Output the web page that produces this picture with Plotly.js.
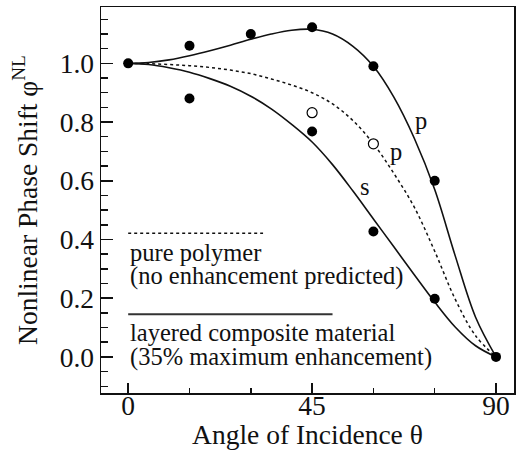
<!DOCTYPE html>
<html>
<head>
<meta charset="utf-8">
<script src="https://cdn.plot.ly/plotly-3.0.1.min.js"></script>
<style>
html,body{margin:0;padding:0;background:#fff;}
#chart{width:517px;height:450px;}
</style>
</head>
<body>
<div id="chart"></div>
<script>
// Angles of incidence (degrees) for the model curves
const curveAngles = [0,5,10,15,20,25,30,35,40,45,50,55,60,65,70,75,80,85,90];
// Layered composite, p polarization (solid)
const compositeP = [1.0,1.003,1.012,1.026,1.043,1.062,1.082,1.100,1.113,1.116,1.100,1.058,0.990,0.885,0.745,0.570,0.345,0.135,0.0];
// Layered composite, s polarization (solid)
const compositeS = [1.0,0.996,0.985,0.970,0.948,0.922,0.888,0.845,0.792,0.732,0.655,0.565,0.470,0.375,0.280,0.187,0.102,0.038,0.0];
// Pure polymer, p polarization (dotted)
const polymerP = [1.0,0.999,0.996,0.992,0.986,0.977,0.965,0.947,0.926,0.900,0.862,0.805,0.726,0.625,0.510,0.360,0.197,0.072,0.0];

// Measured data, layered composite (filled circles)
const measAngles = [0,15,15,30,45,45,60,60,75,75,90];
const measValues = [1.0,1.06,0.88,1.10,1.123,0.768,0.99,0.427,0.60,0.198,0.0];
// Measured data, pure polymer (open circles)
const polyAngles = [45,60];
const polyValues = [0.832,0.726];

// Tick definitions
const xTickVals = [0,45,90];
const xTickText = ['0','45','90'];
const yTickVals = [0.0,0.2,0.4,0.6,0.8,1.0];
const yTickText = ['0.0','0.2','0.4','0.6','0.8','1.0'];

const FONT = 'Liberation Serif';
const INK = '#111';

const traces = [
  {x: curveAngles, y: compositeP, mode: 'lines', line: {color: INK, width: 1.6, shape: 'spline', smoothing: 1}, hoverinfo: 'skip'},
  {x: curveAngles, y: compositeS, mode: 'lines', line: {color: INK, width: 1.6, shape: 'spline', smoothing: 1}, hoverinfo: 'skip'},
  {x: curveAngles, y: polymerP, mode: 'lines', line: {color: INK, width: 1.5, dash: 'dot', shape: 'spline', smoothing: 1}, hoverinfo: 'skip'},
  {x: measAngles, y: measValues, mode: 'markers', marker: {color: '#000', size: 10, symbol: 'circle'}},
  {x: polyAngles, y: polyValues, mode: 'markers', marker: {color: '#fff', size: 10, symbol: 'circle', line: {color: '#000', width: 1.2}}}
];

const xRange = [-6.65, 94.4];
const yRange = [-0.123, 1.192];

const tickFont = {family: FONT, size: 27.5, color: INK};
const titleFont = {family: FONT, size: 27.5, color: INK};
const annFont = {family: FONT, size: 24.5, color: INK};

const layout = {
  width: 517, height: 450,
  margin: {l: 100.5, r: 3, t: 7, b: 57, pad: 0},
  showlegend: false,
  paper_bgcolor: '#fff', plot_bgcolor: '#fff',
  font: {family: FONT, color: INK, size: 27.5},
  xaxis: {
    range: xRange, showgrid: false, zeroline: false,
    showline: true, linecolor: INK, linewidth: 1.5, mirror: true,
    ticks: 'inside', ticklen: 10, tickwidth: 1.5, tickcolor: INK,
    tickmode: 'array', tickvals: xTickVals, ticktext: xTickText,
    tickfont: tickFont,
    ticklabelstandoff: -13,
    minor: {dtick: 15, tick0: 0, ticks: 'inside', ticklen: 5, tickwidth: 1.5, tickcolor: INK, showgrid: false},
    title: {text: 'Angle of Incidence θ', font: titleFont, standoff: 0}
  },
  xaxis2: {
    range: xRange, overlaying: 'x', side: 'top', anchor: 'y', showgrid: false, zeroline: false,
    showline: false, showticklabels: false,
    ticks: 'inside', ticklen: 10, tickwidth: 1.5, tickcolor: INK,
    tickmode: 'array', tickvals: xTickVals,
    minor: {dtick: 15, tick0: 0, ticks: 'inside', ticklen: 6, tickwidth: 1.5, tickcolor: INK, showgrid: false}
  },
  yaxis: {
    range: yRange, showgrid: false, zeroline: false,
    showline: true, linecolor: INK, linewidth: 1.5, mirror: true,
    ticks: 'inside', ticklen: 12, tickwidth: 1.5, tickcolor: INK,
    tickmode: 'array', tickvals: yTickVals, ticktext: yTickText,
    tickfont: tickFont,
    minor: {dtick: 0.05, tick0: 0, ticks: 'inside', ticklen: 7, tickwidth: 1.5, tickcolor: INK, showgrid: false},
    title: {text: 'Nonlinear Phase Shift φ<sup>NL</sup>', font: titleFont, standoff: 14}
  },
  yaxis2: {
    range: yRange, overlaying: 'y', side: 'right', anchor: 'x', showgrid: false, zeroline: false,
    showline: false, showticklabels: false,
    ticks: 'inside', ticklen: 10, tickwidth: 1.5, tickcolor: INK,
    tickmode: 'array', tickvals: yTickVals
  },
  shapes: [
    {type: 'line', xref: 'x', yref: 'y', x0: 0, x1: 33, y0: 0.421, y1: 0.421, line: {color: INK, width: 1.4, dash: 'dot'}},
    {type: 'line', xref: 'x', yref: 'y', x0: 0, x1: 50, y0: 0.145, y1: 0.145, line: {color: '#333', width: 2}}
  ],
  annotations: [
    {text: 'pure polymer', x: 0, y: 0.355, xref: 'x', yref: 'y', xanchor: 'left', yanchor: 'middle', showarrow: false, font: annFont},
    {text: '(no enhancement predicted)', x: 0, y: 0.274, xref: 'x', yref: 'y', xanchor: 'left', yanchor: 'middle', showarrow: false, font: annFont},
    {text: 'layered composite material', x: 0, y: 0.083, xref: 'x', yref: 'y', xanchor: 'left', yanchor: 'middle', showarrow: false, font: annFont},
    {text: '(35% maximum enhancement)', x: 0, y: 0.001, xref: 'x', yref: 'y', xanchor: 'left', yanchor: 'middle', showarrow: false, font: annFont},
    {text: 'p', x: 71.7, y: 0.807, xref: 'x', yref: 'y', showarrow: false, font: annFont},
    {text: 'p', x: 65.6, y: 0.70, xref: 'x', yref: 'y', showarrow: false, font: annFont},
    {text: 's', x: 57.9, y: 0.58, xref: 'x', yref: 'y', showarrow: false, font: annFont}
  ]
};

Plotly.newPlot('chart', traces, layout, {displayModeBar: false, staticPlot: true});
</script>
</body>
</html>
